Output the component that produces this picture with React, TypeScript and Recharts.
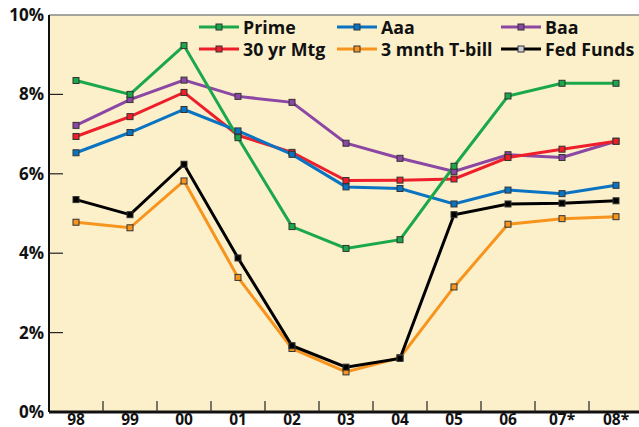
import { CartesianGrid, Line, LineChart, ReferenceLine, XAxis, YAxis } from "recharts";

const years = ["98", "99", "00", "01", "02", "03", "04", "05", "06", "07*", "08*"];
const prime = [8.35, 8.0, 9.23, 6.91, 4.67, 4.12, 4.34, 6.19, 7.96, 8.28, 8.28];
const aaa = [6.53, 7.04, 7.62, 7.08, 6.49, 5.67, 5.63, 5.24, 5.59, 5.5, 5.71];
const baa = [7.22, 7.87, 8.36, 7.95, 7.8, 6.77, 6.39, 6.06, 6.48, 6.41, 6.82];
const mtg30 = [6.94, 7.44, 8.05, 6.97, 6.54, 5.83, 5.84, 5.87, 6.41, 6.62, 6.82];
const tbill3m = [4.78, 4.64, 5.82, 3.39, 1.6, 1.01, 1.37, 3.15, 4.73, 4.87, 4.92];
const fedFunds = [5.35, 4.97, 6.24, 3.88, 1.67, 1.13, 1.35, 4.97, 5.24, 5.26, 5.32];
const yTicks = [0, 2, 4, 6, 8, 10];

const series = [
  { key: "prime", name: "Prime", color: "#1aa84b", dotFill: "#1aa84b" },
  { key: "aaa", name: "Aaa", color: "#0a74c2", dotFill: "#0a74c2" },
  { key: "baa", name: "Baa", color: "#8b47a3", dotFill: "#8b47a3" },
  { key: "mtg30", name: "30 yr Mtg", color: "#ee1f2b", dotFill: "#ee1f2b" },
  { key: "tbill3m", name: "3 mnth T-bill", color: "#f7941d", dotFill: "#f7941d" },
  { key: "fedFunds", name: "Fed Funds", color: "#000000", dotFill: "#000000" },
];
// draw order (last on top)
const drawOrder = ["baa", "mtg30", "aaa", "tbill3m", "fedFunds", "prime"];

const data = years.map((y, i) => ({
  year: y,
  prime: prime[i],
  aaa: aaa[i],
  baa: baa[i],
  mtg30: mtg30[i],
  tbill3m: tbill3m[i],
  fedFunds: fedFunds[i],
}));

const FONT = "'Open Sans', sans-serif";
const CHART_W = 650;
const CHART_H = 427;
const MARGIN = { top: 15, right: 7, bottom: 0, left: 0 };
const Y_W = 49;
const X_H = 15;
const BAND = (CHART_W - MARGIN.left - MARGIN.right - Y_W) / years.length;

function YTick(props: any) {
  const { x, y, payload } = props;
  const v = payload.value;
  return (
    <g>
      {v > 0 && v < 10 && <line x1={x} x2={x + 14} y1={y} y2={y} stroke="#222" strokeWidth={1.2} />}
      <text x={x - 5} y={y + 6} textAnchor="end" fontFamily={FONT} fontWeight={700} fontSize={17} fill="#111">
        {v}%
      </text>
    </g>
  );
}

function XTick(props: any) {
  const { x, y, payload, index } = props;
  return (
    <g>
      {index > 0 && (
        <line x1={x - BAND / 2} x2={x - BAND / 2} y1={y} y2={y - 11} stroke="#222" strokeWidth={1.2} />
      )}
      <text x={x} y={y + 12.5} textAnchor="middle" fontFamily={FONT} fontWeight={700} fontSize={15.5} fill="#111">
        {payload.value}
      </text>
    </g>
  );
}

function LegendIcon({ color, dot }: { color: string; dot: string }) {
  return (
    <svg width={40} height={10} style={{ display: "block", flex: "none" }}>
      <line x1={0} x2={40} y1={5} y2={5} stroke={color} strokeWidth={3} />
      <rect x={17} y={2} width={6} height={6} fill={dot} stroke="#333" strokeWidth={1} />
    </svg>
  );
}

function LegendBox() {
  const cols = [138, 164, 140];
  return (
    <div
      style={{
        position: "absolute",
        top: 16,
        left: 199,
        display: "grid",
        gridTemplateColumns: cols.map((c) => c + "px").join(" "),
        gridAutoRows: "22px",
        fontFamily: FONT,
        fontWeight: 700,
        fontSize: 17.8,
        color: "#111",
      }}
    >
      {series.map((s) => (
        <div key={s.key} style={{ display: "flex", alignItems: "center", gap: 4, whiteSpace: "nowrap" }}>
          <LegendIcon color={s.color} dot={s.key === "fedFunds" ? "#ccd" : s.dotFill} />
          <span>{s.name}</span>
        </div>
      ))}
    </div>
  );
}

function squareDot(fill: string) {
  return (props: any) => {
    const { cx, cy, index } = props;
    if (cx == null || cy == null) return <g key={index} />;
    return (
      <rect
        key={index}
        x={cx - 3}
        y={cy - 3}
        width={6}
        height={6}
        fill={fill}
        stroke="#333"
        strokeWidth={1}
      />
    );
  };
}

export default function App() {
  return (
    <div
      style={{
        position: "absolute",
        left: 0,
        top: 0,
        width: 639,
        height: 427,
        overflow: "hidden",
        background: "#fff",
      }}
    >
      <LineChart width={CHART_W} height={CHART_H} data={data} margin={MARGIN}>
        <CartesianGrid horizontal={false} vertical={false} fill="#fcf0cb" />
        <ReferenceLine y={10} stroke="#8a8a8a" strokeWidth={1.5} />
        <XAxis
          dataKey="year"
          scale="band"
          height={X_H}
          tickLine={false}
          tickSize={0}
          tickMargin={0}
          axisLine={{ stroke: "#111", strokeWidth: 3 }}
          tick={<XTick />}
          interval={0}
        />
        <YAxis
          width={Y_W}
          domain={[0, 10]}
          ticks={yTicks}
          tickLine={false}
          tickSize={0}
          tickMargin={0}
          axisLine={{ stroke: "#111", strokeWidth: 2 }}
          tick={<YTick />}
          interval={0}
        />
        {drawOrder.map((k) => {
          const s = series.find((x) => x.key === k)!;
          return (
            <Line
              key={s.key}
              type="linear"
              dataKey={s.key}
              name={s.name}
              stroke={s.color}
              strokeWidth={3}
              dot={squareDot(s.dotFill)}
              activeDot={false}
              isAnimationActive={false}
            />
          );
        })}
      </LineChart>
      <LegendBox />
    </div>
  );
}
